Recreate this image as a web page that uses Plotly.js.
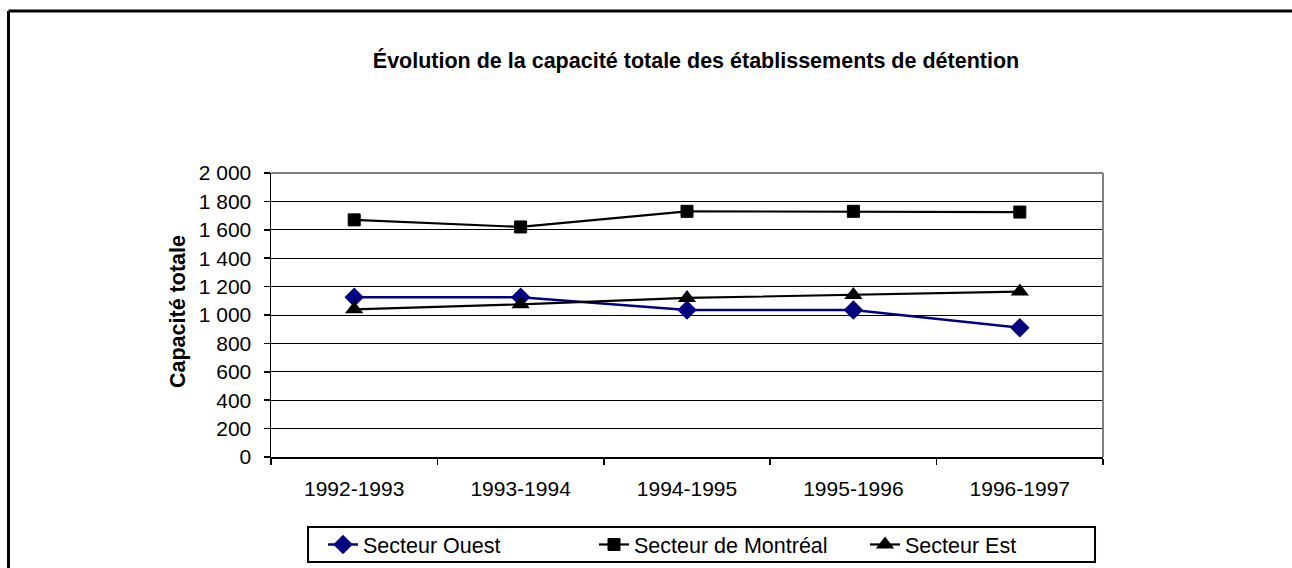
<!DOCTYPE html>
<html>
<head>
<meta charset="utf-8">
<script src="https://cdn.plot.ly/plotly-3.0.1.min.js"></script>
<style>
html,body{margin:0;padding:0;background:#fff;overflow:hidden;}
#chart{width:1292px;height:568px;}
</style>
</head>
<body>
<div id="chart"></div>
<script>
const categories = ["1992-1993", "1993-1994", "1994-1995", "1995-1996", "1996-1997"];
const ouest = [1125, 1125, 1035, 1035, 910];
const montreal = [1670, 1620, 1730, 1730, 1725];
const est = [1040, 1075, 1120, 1140, 1165];
const seriesNames = ["Secteur Ouest", "Secteur de Montréal", "Secteur Est"];

const FONT = "Liberation Sans, Arial, sans-serif";

const traces = [
  {
    x: categories, y: ouest, name: seriesNames[0], type: "scatter", mode: "lines+markers",
    line: {color: "#000080", width: 2.5},
    marker: {symbol: "diamond", size: 15, color: "#000080", line: {width: 0}}
  },
  {
    x: categories, y: montreal, name: seriesNames[1], type: "scatter", mode: "lines+markers",
    line: {color: "#000000", width: 2.2},
    marker: {symbol: "square", size: 12, color: "#000000", line: {color: "#000000", width: 1}}
  },
  {
    x: categories, y: est, name: seriesNames[2], type: "scatter", mode: "lines+markers",
    line: {color: "#000000", width: 2.2},
    marker: {symbol: "triangle-up", size: 16, color: "#000000", line: {width: 0}}
  }
];

const layout = {
  width: 1292, height: 568,
  paper_bgcolor: "#ffffff", plot_bgcolor: "#ffffff",
  font: {family: FONT, size: 21, color: "#000"},
  separators: ", ",
  margin: {l: 271, r: 189, t: 173, b: 111, pad: 0, autoexpand: false},
  title: {
    text: "<b>Évolution de la capacité totale des établissements de détention</b>",
    font: {family: FONT, size: 21.5, color: "#000"},
    xref: "container", yref: "container", x: 0.5387, y: 0.894,
    xanchor: "center", yanchor: "middle"
  },
  xaxis: {
    type: "category", tickson: "boundaries", range: [-0.5, 4.5],
    showgrid: false, zeroline: false,
    showline: true, linecolor: "#000", linewidth: 2,
    ticks: "outside", ticklen: 6, tickwidth: 1.5, tickcolor: "#000",
    ticklabelstandoff: 12,
    tickfont: {family: FONT, size: 21, color: "#000"}
  },
  yaxis: {
    range: [0, 2000], dtick: 200, tickformat: ",d",
    showgrid: true, gridcolor: "#000", gridwidth: 1,
    zeroline: false,
    showline: true, linecolor: "#000", linewidth: 1.5,
    ticks: "outside", ticklen: 6, tickwidth: 1.5, tickcolor: "#000",
    ticklabelstandoff: 8,
    tickfont: {family: FONT, size: 21, color: "#000"}
  },
  showlegend: true,
  legend: {
    orientation: "h", xref: "paper", yref: "paper",
    x: 0.0625, y: -0.3081, xanchor: "left", yanchor: "middle",
    borderwidth: 0, bgcolor: "rgba(0,0,0,0)",
    font: {family: FONT, size: 21.5, color: "#000"},
    entrywidth: 226, traceorder: "normal"
  },
  annotations: [
    {
      text: "<b>Capacité totale</b>", textangle: -90,
      xref: "paper", yref: "paper", x: -0.1118, y: 0.514,
      xanchor: "center", yanchor: "middle", showarrow: false,
      font: {family: FONT, size: 21.5, color: "#000"}
    }
  ],
  shapes: [
    {type: "line", xref: "paper", yref: "paper", x0: 0, x1: 1, y0: 1, y1: 1,
     line: {color: "#808080", width: 2}, layer: "above"},
    {type: "line", xref: "paper", yref: "paper", x0: 1, x1: 1, y0: 0, y1: 1,
     line: {color: "#808080", width: 2}, layer: "above"},
    {type: "rect", xref: "paper", yref: "paper", x0: 0.0445, x1: 0.9904, y0: -0.3697, y1: -0.2465,
     line: {color: "#000", width: 2}, fillcolor: "rgba(0,0,0,0)", layer: "below"},
    {type: "line", xref: "paper", yref: "paper", x0: -0.3155, x1: 1.2272, y0: 1.5704, y1: 1.5704,
     line: {color: "#000", width: 3}, layer: "below"},
    {type: "line", xref: "paper", yref: "paper", x0: -0.3155, x1: -0.3155, y0: -0.4, y1: 1.5704,
     line: {color: "#000", width: 3}, layer: "below"}
  ]
};

Plotly.newPlot("chart", traces, layout, {displayModeBar: false, staticPlot: true});
</script>
</body>
</html>
